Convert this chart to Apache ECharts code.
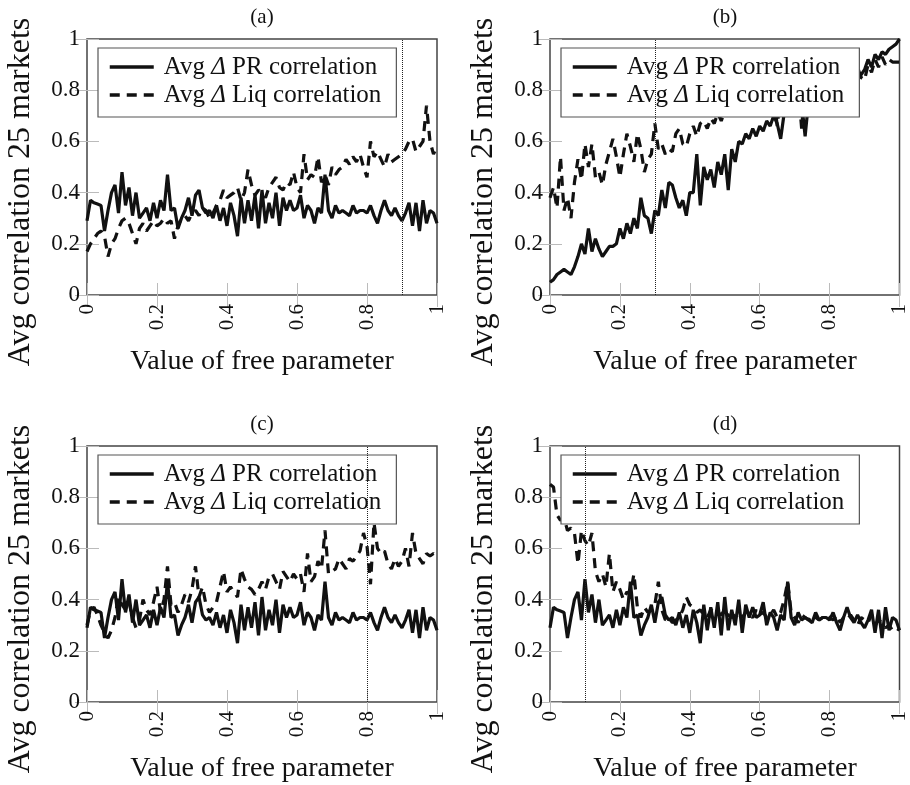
<!DOCTYPE html>
<html>
<head>
<meta charset="utf-8">
<script src="https://cdn.jsdelivr.net/npm/echarts@6/dist/echarts.min.js"></script>
<style>
  html, body { margin: 0; padding: 0; background: #fff; }
  #chart { width: 910px; height: 785px; }
</style>
</head>
<body>
<div id="chart"></div>
<script>
// values of the free parameter (0 .. 1, step 0.01)
const params = Array.from({ length: 101 }, (_, i) => +(i / 100).toFixed(2));

// Avg Δ PR correlation, same curve in (a), (c), (d)
const prShared = [
  0.29, 0.37, 0.36, 0.355, 0.35, 0.25, 0.33, 0.40, 0.43, 0.32,
  0.48, 0.35, 0.42, 0.31, 0.40, 0.30, 0.32, 0.34, 0.29, 0.36,
  0.30, 0.37, 0.33, 0.47, 0.33, 0.34, 0.26, 0.30, 0.33, 0.38,
  0.31, 0.39, 0.41, 0.34, 0.32, 0.33, 0.30, 0.35, 0.29, 0.34,
  0.27, 0.36, 0.31, 0.23, 0.38, 0.28, 0.37, 0.29, 0.39, 0.26,
  0.41, 0.28, 0.36, 0.30, 0.40, 0.27, 0.38, 0.33, 0.37, 0.33,
  0.34, 0.39, 0.30, 0.35, 0.33, 0.28, 0.34, 0.32, 0.47, 0.33,
  0.30, 0.35, 0.32, 0.33, 0.32, 0.31, 0.35, 0.32, 0.33, 0.33,
  0.32, 0.35, 0.31, 0.28, 0.33, 0.37, 0.33, 0.31, 0.34, 0.31,
  0.29, 0.32, 0.36, 0.27, 0.36, 0.25, 0.37, 0.28, 0.33, 0.32,
  0.28
];
const prB = [
  0.05, 0.06, 0.08, 0.09, 0.10, 0.09, 0.08, 0.11, 0.15, 0.20,
  0.16, 0.26, 0.17, 0.22, 0.18, 0.15, 0.17, 0.19, 0.19, 0.20,
  0.26, 0.22, 0.28, 0.24, 0.30, 0.26, 0.38, 0.31, 0.30, 0.24,
  0.33, 0.31, 0.41, 0.34, 0.44, 0.43, 0.38, 0.34, 0.37, 0.31,
  0.40, 0.40, 0.55, 0.35, 0.50, 0.45, 0.49, 0.42, 0.52, 0.47,
  0.55, 0.41, 0.57, 0.52, 0.60, 0.59, 0.63, 0.61, 0.65, 0.62,
  0.66, 0.64, 0.68, 0.66, 0.70, 0.67, 0.61, 0.71, 0.73, 0.70,
  0.74, 0.72, 0.75, 0.62, 0.76, 0.78, 0.77, 0.80, 0.78, 0.81,
  0.80, 0.83, 0.82, 0.84, 0.83, 0.85, 0.84, 0.86, 0.87, 0.86,
  0.88, 0.92, 0.89, 0.94, 0.92, 0.95, 0.94, 0.96, 0.97, 0.98,
  1.00
];

// Avg Δ Liq correlation
const liqA = [
  0.17, 0.20, 0.22, 0.24, 0.25, 0.23, 0.15, 0.20, 0.22, 0.26,
  0.29, 0.30, 0.28, 0.24, 0.20, 0.26, 0.28, 0.25, 0.27, 0.29,
  0.27, 0.28, 0.30, 0.28, 0.29, 0.22, 0.27, 0.30, 0.31, 0.29,
  0.32, 0.33, 0.31, 0.34, 0.33, 0.30, 0.32, 0.35, 0.37, 0.41,
  0.38, 0.39, 0.40, 0.42, 0.37, 0.40, 0.49, 0.43, 0.39, 0.41,
  0.40, 0.38, 0.42, 0.44, 0.46, 0.42, 0.41, 0.44, 0.43, 0.48,
  0.42, 0.40, 0.55, 0.45, 0.47, 0.46, 0.54, 0.44, 0.47, 0.43,
  0.50, 0.47, 0.49, 0.50, 0.53, 0.51, 0.54, 0.52, 0.55, 0.50,
  0.46, 0.60, 0.54, 0.56, 0.53, 0.50, 0.55, 0.52, 0.53, 0.54,
  0.55, 0.57, 0.60, 0.61, 0.56, 0.58, 0.60, 0.74, 0.60, 0.55,
  0.58
];
const liqB = [
  0.38, 0.42, 0.34, 0.54, 0.33, 0.38, 0.30, 0.44, 0.53, 0.45,
  0.59, 0.50, 0.59, 0.46, 0.48, 0.43, 0.51, 0.56, 0.61, 0.54,
  0.46, 0.55, 0.63, 0.58, 0.52, 0.63, 0.57, 0.48, 0.53, 0.55,
  0.67, 0.57, 0.59, 0.55, 0.57, 0.56, 0.63, 0.65, 0.59, 0.58,
  0.63, 0.66, 0.62, 0.67, 0.68, 0.65, 0.69, 0.67, 0.71, 0.68,
  0.72, 0.70, 0.73, 0.70, 0.74, 0.72, 0.75, 0.73, 0.76, 0.74,
  0.77, 0.74, 0.78, 0.76, 0.79, 0.66, 0.78, 0.80, 0.79, 0.81,
  0.80, 0.82, 0.65, 0.83, 0.82, 0.84, 0.83, 0.85, 0.84, 0.86,
  0.85, 0.87, 0.86, 0.88, 0.87, 0.89, 0.88, 0.90, 0.89, 0.85,
  0.84, 0.90, 0.87, 0.92, 0.89, 0.93, 0.90, 0.92, 0.91, 0.91,
  0.91
];
const liqC = [
  0.30, 0.36, 0.37, 0.34, 0.30, 0.27, 0.25, 0.28, 0.33, 0.41,
  0.38, 0.36, 0.39, 0.33, 0.29, 0.32, 0.40, 0.36, 0.34, 0.39,
  0.45, 0.35, 0.40, 0.53, 0.38, 0.39, 0.35, 0.38, 0.42, 0.39,
  0.44, 0.53, 0.41, 0.45, 0.38, 0.35, 0.37, 0.39, 0.45, 0.51,
  0.43, 0.45, 0.43, 0.41, 0.52, 0.48, 0.45, 0.44, 0.42, 0.44,
  0.47, 0.44, 0.49, 0.50, 0.47, 0.44, 0.51, 0.49, 0.47, 0.50,
  0.48, 0.50, 0.43, 0.58, 0.47, 0.49, 0.55, 0.52, 0.67, 0.50,
  0.51, 0.52, 0.56, 0.54, 0.52, 0.56, 0.55, 0.57, 0.59, 0.66,
  0.61, 0.46, 0.70, 0.60, 0.58, 0.59, 0.54, 0.52, 0.56, 0.53,
  0.55, 0.60, 0.53, 0.66, 0.58, 0.56, 0.54, 0.58, 0.57, 0.58,
  0.57
];
const liqD = [
  0.85, 0.84, 0.73, 0.71, 0.72, 0.67, 0.68, 0.66, 0.54, 0.67,
  0.63, 0.61, 0.66, 0.51, 0.47, 0.50, 0.45, 0.58, 0.43, 0.47,
  0.44, 0.40, 0.43, 0.42, 0.50, 0.37, 0.33, 0.37, 0.35, 0.36,
  0.38, 0.47, 0.36, 0.32, 0.33, 0.31, 0.32, 0.33, 0.36, 0.41,
  0.38, 0.37, 0.35, 0.36, 0.34, 0.33, 0.36, 0.37, 0.35, 0.34,
  0.36, 0.34, 0.33, 0.35, 0.34, 0.33, 0.35, 0.34, 0.33, 0.36,
  0.34, 0.35, 0.33, 0.34, 0.36, 0.33, 0.35, 0.40, 0.47, 0.35,
  0.33, 0.31, 0.34, 0.33, 0.32, 0.34, 0.33, 0.32, 0.33, 0.34,
  0.33, 0.32, 0.34, 0.31, 0.33, 0.32, 0.34, 0.32, 0.30, 0.33,
  0.32, 0.31, 0.34, 0.30, 0.32, 0.31, 0.29, 0.30, 0.28, 0.29,
  0.28
];

const panelTitles = ["(a)", "(b)", "(c)", "(d)"];
const prSeries = [prShared, prB, prShared, prShared];
const liqSeries = [liqA, liqB, liqC, liqD];
const cutoffs = [0.9, 0.3, 0.8, 0.1];

const PR_NAME = "Avg Δ PR correlation";
const LIQ_NAME = "Avg Δ Liq correlation";
const Y_NAME = "Avg correlation 25 markets";
const X_NAME = "Value of free parameter";

// layout
const FONT = "Liberation Serif";
const gridLeft = [87, 550, 87, 550];
const gridTop = [39, 39, 446, 446];
const GW = 350, GH = 256;
const INK = "#111";

const myChart = echarts.init(document.getElementById("chart"));

const tickStyle = { show: true, inside: true, length: 12, lineStyle: { color: "#bbb", width: 1 } };

const grid = [], xAxis = [], yAxis = [], series = [], legend = [], graphic = [];

panelTitles.forEach((title, i) => {
  grid.push({
    left: gridLeft[i], top: gridTop[i], width: GW, height: GH,
    show: true, borderColor: "#444", borderWidth: 1.5, backgroundColor: "transparent",
  });

  const baseX = { gridIndex: i, type: "value", min: 0, max: 1, interval: 0.2,
    axisLine: { show: false }, splitLine: { show: false }, axisTick: tickStyle };
  xAxis.push(Object.assign({}, baseX, {
    position: "bottom",
    axisLabel: { rotate: 90, margin: 9, fontSize: 21, fontFamily: FONT, color: INK },
  }));
  xAxis.push(Object.assign({}, baseX, { position: "top", axisLabel: { show: false } }));

  const baseY = { gridIndex: i, type: "value", min: 0, max: 1, interval: 0.2,
    axisLine: { show: false }, splitLine: { show: false }, axisTick: tickStyle };
  yAxis.push(Object.assign({}, baseY, {
    position: "left",
    axisLabel: { margin: 7, fontSize: 23, fontFamily: FONT, color: INK },
  }));
  yAxis.push(Object.assign({}, baseY, { position: "right", axisLabel: { show: false } }));

  series.push({
    name: PR_NAME, type: "line", xAxisIndex: 2 * i, yAxisIndex: 2 * i,
    data: params.map((p, k) => [p, prSeries[i][k]]),
    symbol: "none", lineStyle: { color: INK, width: 3.2 }, itemStyle: { color: INK },
    markLine: {
      silent: true, symbol: "none", label: { show: false },
      lineStyle: { color: "#222", type: "dotted", width: 1 },
      data: [{ xAxis: cutoffs[i] }],
    },
  });
  series.push({
    name: LIQ_NAME, type: "line", xAxisIndex: 2 * i, yAxisIndex: 2 * i,
    data: params.map((p, k) => [p, liqSeries[i][k]]),
    symbol: "none", lineStyle: { color: INK, width: 3.2, type: [10, 7] }, itemStyle: { color: INK },
  });

  legend.push({
    left: gridLeft[i] + 11, top: gridTop[i] + 9,
    orient: "vertical", itemGap: 2, itemWidth: 44, itemHeight: 3,
    padding: [6, 15, 9, 10],
    backgroundColor: "#fff", borderColor: "#555", borderWidth: 1.2, borderRadius: 0,
    selectedMode: false,
    itemStyle: { opacity: 0 },
    lineStyle: { width: 3.5 },
    data: [PR_NAME, LIQ_NAME],
    formatter: (name) => name.replace("Δ", "{d|Δ}"),
    textStyle: {
      fontSize: 25, fontFamily: FONT, color: INK, lineHeight: 26, padding: [0, 0, 0, 5],
      rich: { d: { fontSize: 25, fontFamily: FONT, fontStyle: "italic", color: INK, lineHeight: 26 } },
    },
  });

  graphic.push({
    type: "text", x: gridLeft[i] + GW / 2, y: gridTop[i] - 22,
    style: { text: title, fontSize: 21, fontFamily: FONT, fill: INK, align: "center", verticalAlign: "middle" },
  });
  graphic.push({
    type: "text", x: gridLeft[i] + GW / 2, y: gridTop[i] + 323,
    style: { text: X_NAME, fontSize: 28, fontFamily: FONT, fill: INK, align: "center", verticalAlign: "middle" },
  });
  graphic.push({
    type: "text", x: gridLeft[i] - 66, y: gridTop[i] + 153, rotation: Math.PI / 2,
    style: { text: Y_NAME, fontSize: 32, fontFamily: FONT, fill: INK, align: "center", verticalAlign: "middle" },
  });
});

const option = {
  animation: false,
  backgroundColor: "#fff",
  grid, xAxis, yAxis, series, legend, graphic,
};

option && myChart.setOption(option);
</script>
</body>
</html>
